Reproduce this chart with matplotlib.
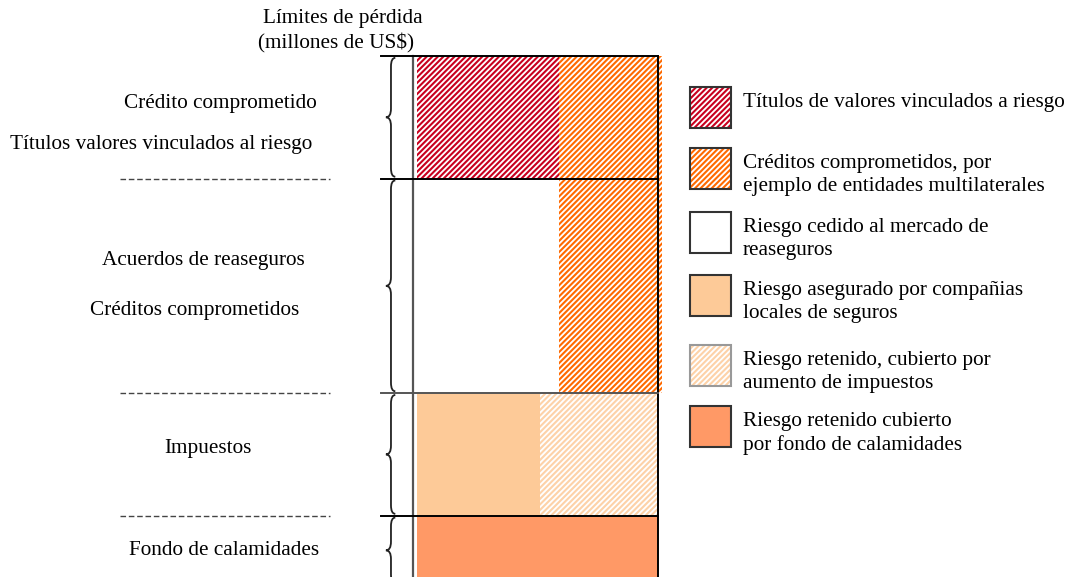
import matplotlib
matplotlib.use("Agg")
import matplotlib.pyplot as plt
from matplotlib.patches import Rectangle, PathPatch
from matplotlib.path import Path

plt.rcParams['font.family'] = ['Liberation Serif', 'DejaVu Serif']
plt.rcParams['hatch.linewidth'] = 1.5

# --- data -------------------------------------------------------------
# capas de financiamiento (de abajo hacia arriba), límites de pérdida relativos
layer_limits = [0, 1, 3, 6.5, 8.5]
left_share = [1.0, 0.51, 0.59, 0.59]
left_cat = ["fondo", "aseguradoras", "reaseguro", "titulos"]
right_cat = [None, "impuestos", "creditos", "creditos"]

side_labels = [
    ["Fondo de calamidades"],
    ["Impuestos"],
    ["Acuerdos de reaseguros", "Créditos comprometidos"],
    ["Crédito comprometido", "Títulos valores vinculados al riesgo"],
]

legend_cats = ["titulos", "creditos", "reaseguro", "aseguradoras", "impuestos", "fondo"]
legend_texts = [
    "Títulos de valores vinculados a riesgo",
    "Créditos comprometidos, por\nejemplo de entidades multilaterales",
    "Riesgo cedido al mercado de\nreaseguros",
    "Riesgo asegurado por compañias\nlocales de seguros",
    "Riesgo retenido, cubierto por\naumento de impuestos",
    "Riesgo retenido cubierto\npor fondo de calamidades",
]

# category -> (face, hatch colour, hatch)
styles = {
    "titulos": ("white", "#C8001E", "//////"),
    "creditos": ("white", "#FF6A00", "//////"),
    "reaseguro": ("white", None, None),
    "aseguradoras": ("#FDCA98", None, None),
    "impuestos": ("white", "#FDD2A8", "//////"),
    "fondo": ("#FF9966", None, None),
}

# --- layout -----------------------------------------------------------
W, H = 1073, 577
fig = plt.figure(figsize=(W / 100, H / 100), dpi=100)
ax = fig.add_axes([413 / W, 0, (662 - 413) / W, (H - 56) / H])
ax.set_xlim(-4 / 241, 1 + 4 / 241)
ax.set_ylim(0, layer_limits[-1])
ax.axis("off")

FS = 15.3


def fill_bar(x0, width, y0, height, cat):
    face, hcol, hatch = styles[cat]
    if hatch:
        ax.bar(x0, height, width=width, bottom=y0, align="edge", color=face,
               edgecolor=hcol, linewidth=0, hatch=hatch, zorder=1)
    else:
        ax.bar(x0, height, width=width, bottom=y0, align="edge", color=face,
               linewidth=0, zorder=1)


for i in range(len(left_cat)):
    y0 = layer_limits[i]
    h = layer_limits[i + 1] - y0
    fill_bar(0, left_share[i], y0, h, left_cat[i])
    if right_cat[i]:
        extra = 0.015 if right_cat[i] == "creditos" else 0.006
        fill_bar(left_share[i], 1 - left_share[i] + extra, y0, h, right_cat[i])

# frame lines
ax.plot([-4 / 241, -4 / 241], [0, layer_limits[-1]], color="#555555", lw=1.6,
        zorder=3, clip_on=False)
ax.plot([1, 1], [0, layer_limits[-1]], color="black", lw=1.4, zorder=3, clip_on=False)
for k, yb in enumerate(layer_limits[1:]):
    col = "#555555" if k == 1 else "black"
    ax.plot([-0.149, 1.0], [yb, yb], color=col, lw=1.4, zorder=3, clip_on=False)
    if yb != layer_limits[-1]:
        ax.plot([-1.232, -0.361], [yb, yb], color="#444444", lw=1.0,
                dashes=(4, 2), clip_on=False)


def brace(y0, y1, xt=-0.129, xb=-0.108, xe=-0.09, r=0.14):
    ym = 0.5 * (y0 + y1)
    verts = [(xe, y1), (xb, y1), (xb, y1 - r),
             (xb, ym + r), (xb, ym), (xt, ym),
             (xb, ym), (xb, ym - r),
             (xb, y0 + r), (xb, y0), (xe, y0)]
    codes = [Path.MOVETO, Path.CURVE3, Path.CURVE3,
             Path.LINETO, Path.CURVE3, Path.CURVE3,
             Path.CURVE3, Path.CURVE3,
             Path.LINETO, Path.CURVE3, Path.CURVE3]
    ax.add_patch(PathPatch(Path(verts, codes), fill=False, lw=1.3,
                           edgecolor="#222222", clip_on=False))


for i in range(len(left_cat)):
    lo = layer_limits[i] + 0.03
    hi = layer_limits[i + 1] - 0.03
    if i == 0:
        lo = -0.1
    brace(lo, hi)

# side labels (x centre in px, offset from layer middle in data units)
label_x = [[224], [208], [203, 195], [220, 161]]
label_dy = [[-0.06], [0.09], [0.41, -0.41], [0.22, -0.44]]
for i, labs in enumerate(side_labels):
    ym = 0.5 * (layer_limits[i] + layer_limits[i + 1])
    for lab, xp, dy in zip(labs, label_x[i], label_dy[i]):
        ax.text((xp - 417) / 241, ym + dy, lab, ha="center", va="center",
                fontsize=FS, clip_on=False)

# header
fig.text(263 / W, 1 - 19 / H, "Límites de pérdida", fontsize=FS, ha="left", va="center")
fig.text(258 / W, 1 - 43 / H, r"(millones de US\$)", fontsize=FS, ha="left", va="center")

# legend
box_tops = [87, 148, 212, 275, 345, 406]
for cat, txt, top in zip(legend_cats, legend_texts, box_tops):
    face, hcol, hatch = styles[cat]
    rect = dict(xy=(690 / W, 1 - (top + 41) / H), width=41 / W, height=41 / H,
                transform=fig.transFigure)
    if hatch:
        fig.patches.append(Rectangle(**rect, facecolor=face, edgecolor=hcol,
                                     hatch=hatch, linewidth=0))
    else:
        fig.patches.append(Rectangle(**rect, facecolor=face, linewidth=0))
    edge = "#999999" if cat == "impuestos" else "#333333"
    fig.patches.append(Rectangle(**rect, fill=False, edgecolor=edge, linewidth=1.5))
    fig.text(743 / W, 1 - (top + 6) / H, txt, fontsize=FS, ha="left", va="top",
             linespacing=1.3)

fig.savefig("out.png", dpi=100)
